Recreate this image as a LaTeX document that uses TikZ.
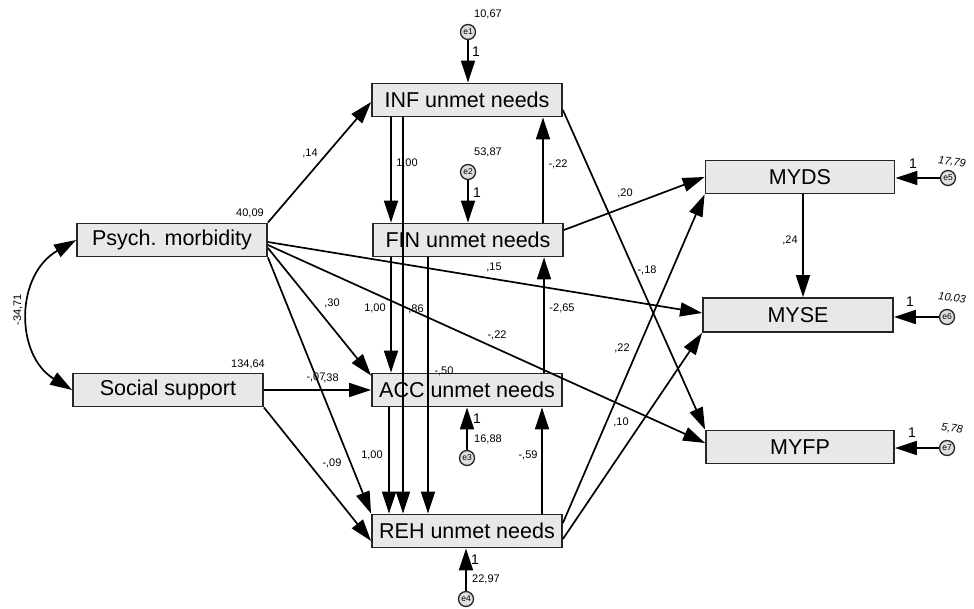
\documentclass[tikz,border=0pt]{standalone}
\usepackage{fontspec}
\setmainfont{Liberation Sans}
\usetikzlibrary{arrows.meta}
\begin{document}
\begin{tikzpicture}[x=1pt,y=-1pt,
  box/.style={draw=black!85, line width=1.8pt, fill=gray!18, minimum width=190pt, minimum height=33pt, inner sep=0pt, font=\fontsize{21.5}{24}\selectfont},
  err/.style={circle, draw=black!85, line width=1.3pt, fill=gray!25, minimum size=15pt, inner sep=0pt, font=\fontsize{8.5}{9}\selectfont},
  lbl/.style={font=\fontsize{11}{12}\selectfont, inner sep=0pt},
  one/.style={font=\fontsize{14}{15}\selectfont, inner sep=0pt},
  arr/.style={line width=1.7pt, -{Triangle[length=22pt,width=14pt]}},
  darr/.style={line width=1.7pt, {Triangle[length=22pt,width=14pt]}-{Triangle[length=22pt,width=14pt]}},
]
\useasboundingbox (0,0) rectangle (974,608);

% boxes
\node[box] (INF) at (467,100) {INF unmet needs};
\node[box] (FIN) at (468,240) {FIN unmet needs};
\node[box] (ACC) at (467,390) {ACC unmet needs};
\node[box] (REH) at (467,531) {REH unmet needs};
\node[box] (PSY) at (172,240) {Psych. morbidity};
\node[box] (SOC) at (168,390) {Social support};
\node[box, minimum width=189pt] (MYDS) at (800,177) {MYDS};
\node[box, minimum height=34pt] (MYSE) at (798,315) {MYSE};
\node[box, minimum width=188pt] (MYFP) at (800,447) {MYFP};

% error terms
\node[err] (e1) at (468,32) {e1};
\node[err] (e2) at (468,172) {e2};
\node[err] (e3) at (467,458) {e3};
\node[err] (e4) at (466,599) {e4};
\node[err] (e5) at (948,178) {e5};
\node[err] (e6) at (947,317) {e6};
\node[err] (e7) at (947,448) {e7};

\draw[arr] (e1.south) -- (e1.south |- INF.north);
\draw[arr] (e2.south) -- (e2.south |- FIN.north);
\draw[arr] (e3.north) -- (e3.north |- ACC.south);
\draw[arr] (e4.north) -- (e4.north |- REH.south);
\draw[arr] (e5.west) -- (e5.west -| MYDS.east);
\draw[arr] (e6.west) -- (e6.west -| MYSE.east);
\draw[arr] (e7.west) -- (e7.west -| MYFP.east);

% vertical paths among needs
\draw[arr] (INF.south -| 391,0) -- (FIN.north -| 391,0);
\draw[arr] (INF.south -| 403,0) -- (REH.north -| 403,0);
\draw[arr] (FIN.south -| 391,0) -- (ACC.north -| 391,0);
\draw[arr] (FIN.south -| 428,0) -- (REH.north -| 428,0);
\draw[arr] (ACC.south -| 389,0) -- (REH.north -| 389,0);
\draw[arr] (FIN.north -| 543,0) -- (INF.south -| 543,0);
\draw[arr] (ACC.north -| 544,0) -- (FIN.south -| 544,0);
\draw[arr] (REH.north -| 542,0) -- (ACC.south -| 542,0);
\draw[arr] (MYDS.south -| 803,0) -- (MYSE.north -| 803,0);

% exogenous paths
\draw[darr] (PSY.west) .. controls (15,275) and (15,355) .. (SOC.west);
\draw[arr] (PSY.north east) -- ([yshift=-2pt]INF.west);
\draw[arr] ([yshift=-2pt]PSY.east) -- ([yshift=2pt]MYSE.west);
\draw[arr] ([yshift=-5pt]PSY.east) -- ([yshift=4pt]MYFP.west);
\draw[arr] ([yshift=-8pt]PSY.east) -- ([yshift=-3pt]ACC.north west);
\draw[arr] (PSY.south east) -- (REH.north west);
\draw[arr] (SOC.east) -- (ACC.west);
\draw[arr] (SOC.south east) -- ([yshift=-10pt]REH.west);

% needs to outcomes
\draw[arr] ([yshift=10pt]FIN.east) -- (MYDS.west);
\draw[arr] ([yshift=-10pt]INF.east) -- (MYFP.north west);
\draw[arr] ([yshift=8pt]REH.east) -- (MYDS.south west);
\draw[arr] ([yshift=-8pt]REH.east) -- (MYSE.south west);

% "1" labels
\node[one] (o1) at (476,52) {1};
\node[one] (o2) at (477,193) {1};
\node[one] (o3) at (477,419) {1};
\node[one] (o4) at (475,560) {1};
\node[one] (o5) at (913,164) {1};
\node[one] (o6) at (910,302) {1};
\node[one] (o7) at (912,433) {1};

% variances
\node[lbl] (v1) at (488,14) {10,67};
\node[lbl] (v2) at (488,152) {53,87};
\node[lbl] (v3) at (488,439) {16,88};
\node[lbl] (v4) at (486,579) {22,97};
\node[lbl, rotate=-8] (v5) at (952,162) {\textit{17,79}};
\node[lbl, rotate=-8] (v6) at (952,298) {\textit{10,03}};
\node[lbl, rotate=-8] (v7) at (952,429) {\textit{5,78}};
\node[lbl] (v8) at (250,213) {40,09};
\node[lbl] (v9) at (248,364) {134,64};

% coefficients
\node[lbl, rotate=90] (c1) at (18,310) {-34,71};
\node[lbl] (c2) at (310,153) {,14};
\node[lbl] (c3) at (407,163) {1,00};
\node[lbl] (c4) at (558,164) {-,22};
\node[lbl] (c5) at (494,267) {,15};
\node[lbl] (c6) at (375,308) {1,00};
\node[lbl] (c7) at (416,309) {,86};
\node[lbl] (c8) at (562,308) {-2,65};
\node[lbl] (c9) at (497,335) {-,22};
\node[lbl] (c10) at (444,371) {-,50};
\node[lbl] (c11) at (332,303) {,30};
\node[lbl] (c12) at (316,377) {-,07};
\node[lbl] (c13) at (331,378) {,38};
\node[lbl] (c14) at (332,463) {-,09};
\node[lbl] (c15) at (372,455) {1,00};
\node[lbl] (c16) at (528,455) {-,59};
\node[lbl] (c17) at (625,193) {,20};
\node[lbl] (c18) at (647,270) {-,18};
\node[lbl] (c19) at (622,348) {,22};
\node[lbl] (c20) at (621,422) {,10};
\node[lbl] (c21) at (790,240) {,24};
\end{tikzpicture}
\end{document}
